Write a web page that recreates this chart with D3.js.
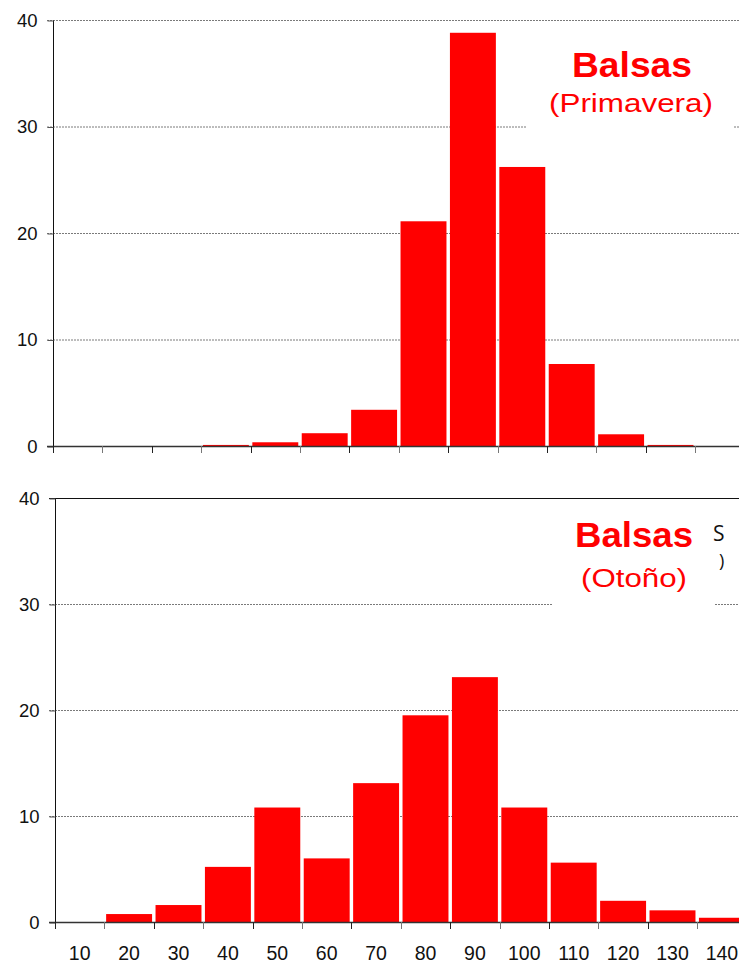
<!DOCTYPE html>
<html>
<head>
<meta charset="utf-8">
<script src="https://cdn.jsdelivr.net/npm/d3@7"></script>
<style>
  html, body { margin: 0; padding: 0; background: #fff; }
  svg { display: block; }
</style>
</head>
<body>
<svg id="chart" width="739" height="963"></svg>
<script>
// ---- data ----
const categories = [10, 20, 30, 40, 50, 60, 70, 80, 90, 100, 110, 120, 130, 140];
const primavera = [0, 0, 0, 0.1, 0.35, 1.2, 3.4, 21.1, 38.8, 26.2, 7.7, 1.1, 0.1, 0];
const otono = [0, 0.75, 1.6, 5.2, 10.8, 6.0, 13.1, 19.5, 23.1, 10.8, 5.6, 2.0, 1.1, 0.4];
const yTicks = [0, 10, 20, 30, 40];
const titleMain = "Balsas";
const subPrimavera = "(Primavera)";
const subOtono = "(Otoño)";

const svg = d3.select("#chart");
const step = 49.4;

function panel(cfg) {
  const g = svg.append("g");
  const x = d3.scaleBand()
    .domain(categories)
    .range([cfg.left, cfg.left + step * categories.length])
    .paddingInner(0.07).paddingOuter(0.035);
  const y = d3.scaleLinear().domain([0, 40]).range([cfg.bottom, cfg.top]);

  // gridlines
  g.selectAll("line.grid")
    .data(yTicks.filter(d => d > 0))
    .join("line")
    .attr("x1", cfg.left - 6).attr("x2", 739)
    .attr("y1", d => y(d) + 0.5).attr("y2", d => y(d) + 0.5)
    .attr("stroke", d => (d === 40 && cfg.darkTop) ? "#111" : "#7a7a7a")
    .attr("stroke-width", d => (d === 40 && cfg.darkTop) ? 1.2 : 1)
    .attr("stroke-dasharray", d => (d === 40 && cfg.darkTop) ? null : "2,1");

  // bars
  g.selectAll("rect.bar")
    .data(categories.map((c, i) => ({ c, v: cfg.values[i] })))
    .join("rect")
    .attr("x", d => x(d.c))
    .attr("width", x.bandwidth())
    .attr("y", d => y(d.v))
    .attr("height", d => cfg.bottom - y(d.v))
    .attr("fill", "#ff0000");

  // y axis
  const yAxis = d3.axisLeft(y).tickValues(yTicks).tickSize(6).tickPadding(10);
  const ya = g.append("g").attr("transform", `translate(${cfg.left + 0.5},0.5)`).call(yAxis);
  ya.select(".domain").attr("stroke", "#111").attr("d", `M0,${cfg.top}V${cfg.bottom}`);
  ya.selectAll(".tick line").attr("stroke", "#555");
  ya.selectAll("text")
    .attr("font-family", "Liberation Sans, Arial, sans-serif")
    .attr("font-size", 18.5).attr("fill", "#111");

  // x axis baseline + ticks at band boundaries
  const xScaleEdges = d3.scaleLinear().domain([0, categories.length]).range([cfg.left, cfg.left + step * categories.length]);
  g.append("line")
    .attr("x1", cfg.left - 6).attr("x2", 739)
    .attr("y1", cfg.bottom + 0.5).attr("y2", cfg.bottom + 0.5)
    .attr("stroke", "#333").attr("stroke-width", 1.3);
  g.selectAll("line.xt")
    .data(d3.range(0, categories.length + 1))
    .join("line")
    .attr("x1", d => Math.round(xScaleEdges(d)) + 0.5).attr("x2", d => Math.round(xScaleEdges(d)) + 0.5)
    .attr("y1", cfg.bottom).attr("y2", cfg.bottom + 7)
    .attr("stroke", (d, i) => i % 2 ? "#777" : "#222");

  if (cfg.showLabels) {
    g.selectAll("text.xl")
      .data(categories)
      .join("text")
      .attr("x", d => x(d) + x.bandwidth() / 2)
      .attr("y", cfg.bottom + 38)
      .attr("text-anchor", "middle")
      .attr("font-family", "Liberation Sans, Arial, sans-serif")
      .attr("font-size", 19.5)
      .attr("fill", "#111")
      .text(d => d);
  }

  // white label box
  g.append("rect")
    .attr("x", cfg.box[0]).attr("y", cfg.box[1])
    .attr("width", cfg.box[2]).attr("height", cfg.box[3])
    .attr("fill", "#fff");

  // visible remnants of a black label peeking out from behind the box
  if (cfg.ghost) {
    g.append("text").attr("x", 713).attr("y", cfg.ghost.y1)
      .attr("font-family", "Open Sans, sans-serif")
      .attr("font-size", 21).attr("fill", "#111").text("S");
    g.append("text").attr("x", 719).attr("y", cfg.ghost.y2)
      .attr("font-family", "Open Sans, sans-serif")
      .attr("font-size", 18).attr("fill", "#111").text(")");
  }

  g.append("text")
    .attr("x", cfg.tx).attr("y", cfg.ty1)
    .attr("text-anchor", "middle")
    .attr("font-family", "Liberation Sans, Arial, sans-serif")
    .attr("font-weight", "bold").attr("font-size", 35)
    .attr("fill", "#ff0000")
    .attr("textLength", cfg.w1).attr("lengthAdjust", "spacingAndGlyphs")
    .text(titleMain);
  g.append("text")
    .attr("x", cfg.tx2).attr("y", cfg.ty2)
    .attr("text-anchor", "middle")
    .attr("font-family", "Liberation Sans, Arial, sans-serif")
    .attr("font-size", 26)
    .attr("fill", "#ff0000")
    .attr("textLength", cfg.w2).attr("lengthAdjust", "spacingAndGlyphs")
    .text(cfg.sub);
}

panel({
  left: 53, top: 20, bottom: 446, values: primavera, showLabels: false, darkTop: false,
  box: [527, 30, 206, 105],
  tx: 632, ty1: 77, w1: 120, tx2: 631, ty2: 112, w2: 164, sub: subPrimavera
});

panel({
  left: 55, top: 498, bottom: 922, values: otono, showLabels: true, darkTop: true,
  box: [553, 505, 161, 110],
  tx: 634, ty1: 547, w1: 118, tx2: 634, ty2: 587, w2: 106, sub: subOtono,
  ghost: { y1: 541, y2: 567 }
});
</script>
</body>
</html>
